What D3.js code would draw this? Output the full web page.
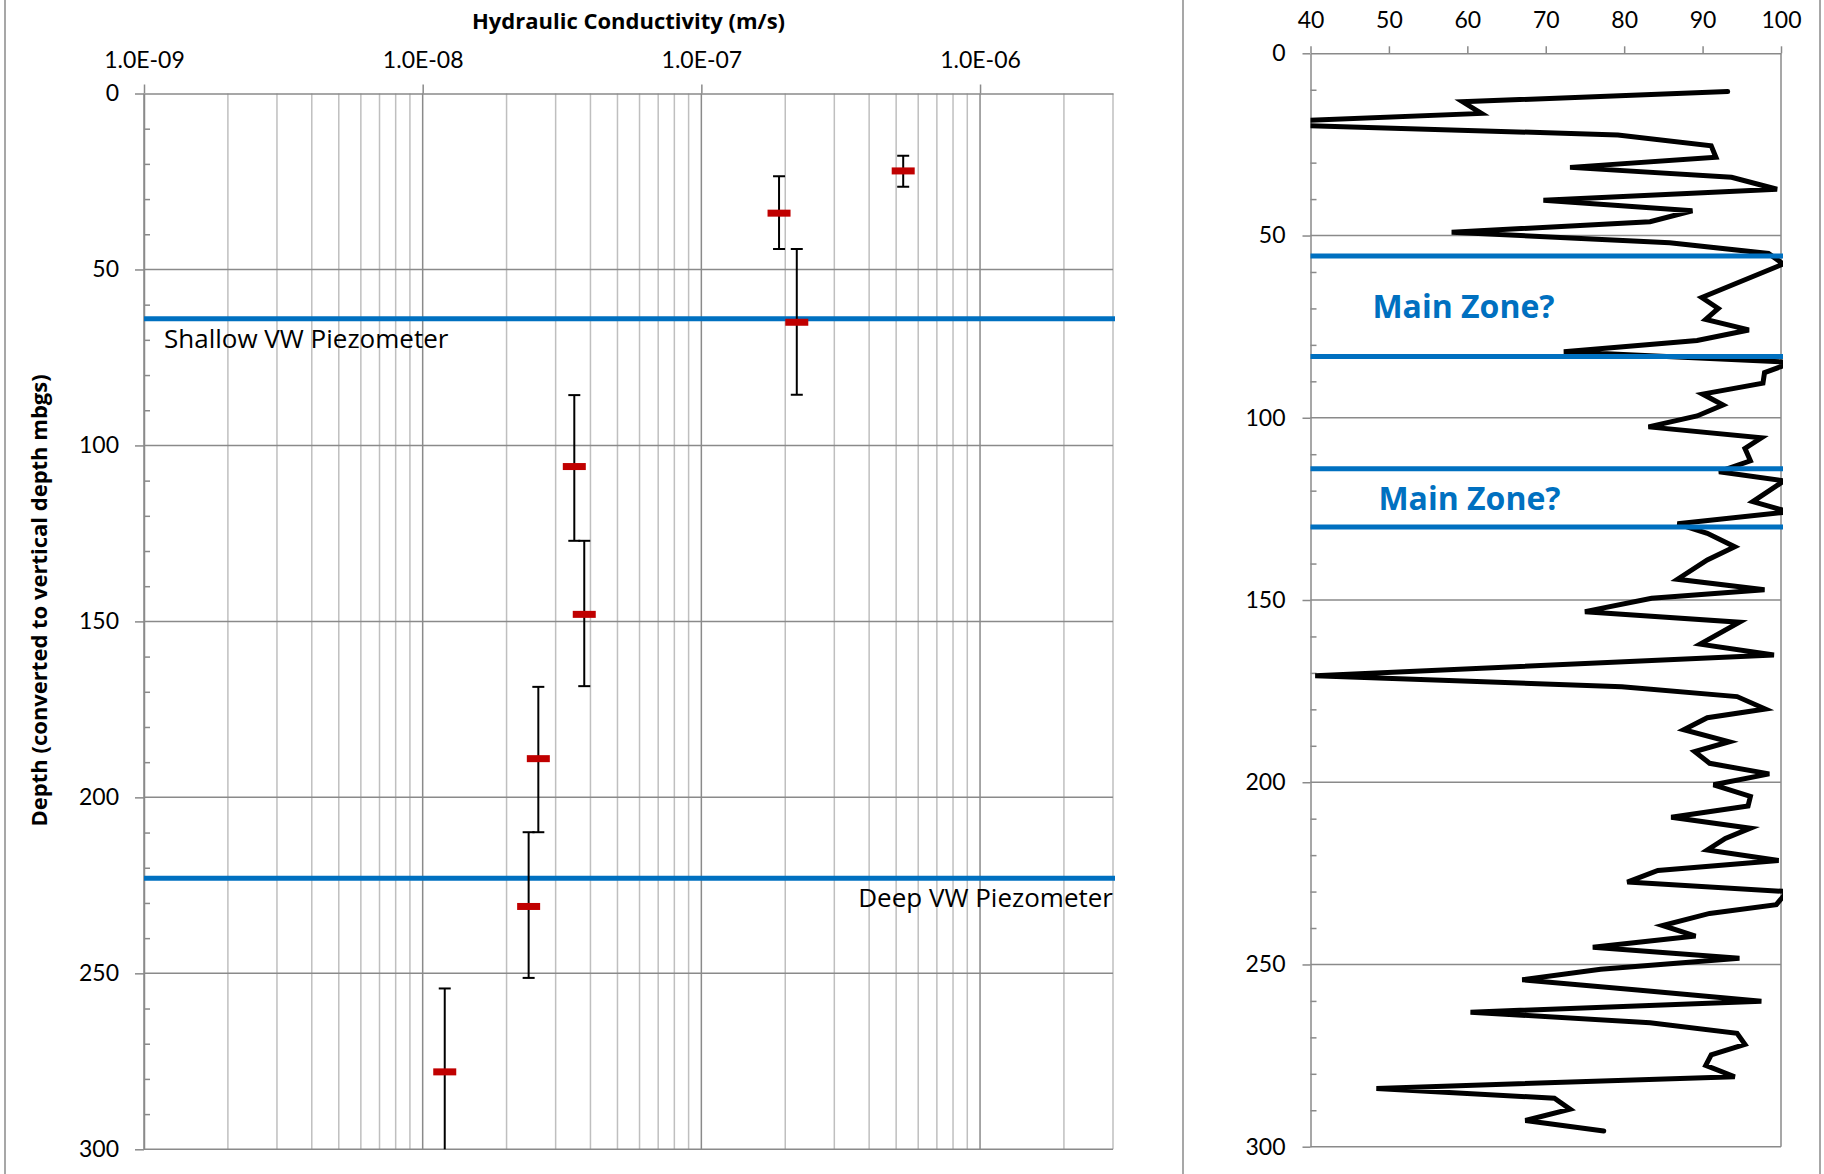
<!DOCTYPE html>
<html>
<head>
<meta charset="utf-8">
<script src="https://cdn.jsdelivr.net/npm/d3@7"></script>
<style>
    body { margin: 0; background: #fff; }
    svg { display: block; font-family: Lato, "Open Sans", sans-serif; }
</style>
</head>
<body>
<div class="chart-container"></div>
<script>
// Left panel: slug test results (K vs depth, with test interval as error bar)
const kValues = [5.3e-7, 1.9e-7, 2.2e-7, 3.5e-8, 3.8e-8, 2.6e-8, 2.4e-8, 1.2e-8];
const kDepths = [22, 34, 65, 106, 148, 189, 231, 278];
const kDepthTop = [17.7, 23.5, 44.2, 85.7, 127.1, 168.6, 209.9, 254.3];
const kDepthBottom = [26.5, 44.2, 85.6, 127.1, 168.4, 209.9, 251.3, 301.5];

const piezoDepths = [64, 223];
const piezoLabels = ['Shallow VW Piezometer', 'Deep VW Piezometer'];

// Right panel: log trace vs depth
const logDepths = [10.5, 13.3, 16.5, 19.2, 22.4, 25.4, 28.5, 31.3, 34.0, 37.3, 40.3, 43.2, 46.2, 49.1, 52.0, 54.9, 57.8,
    67.0, 70.0, 73.0, 75.9, 78.8, 81.9, 84.8, 87.6, 90.5, 93.5, 96.5, 99.5, 102.5, 105.5, 108.4, 111.8, 114.8, 117.3,
    123.0, 125.8, 129.1, 131.7, 135.4, 139.0, 144.3, 147.2, 149.5, 153.2, 156.1, 162.1, 165.1, 170.8, 173.8, 176.5,
    179.9, 182.3, 185.6, 188.9, 191.6, 194.8, 197.7, 200.7, 203.9, 206.5, 209.6, 212.6, 215.4, 218.6, 221.5, 224.2,
    227.4, 230.0, 233.6, 236.0, 239.3, 242.2, 245.3, 248.3, 251.3, 254.2, 257.0, 260.1, 263.1, 266.0, 268.9, 271.9,
    274.8, 277.7, 280.8, 284.0, 286.7, 289.7, 292.8, 295.7];
const logValues = [93.2, 59.4, 61.8, 30, 79.2, 91.1, 91.7, 73.1, 93.7, 99.5, 69.7, 88.7, 83.3, 58.0, 85.8, 98.4, 100.3,
    89.9, 92.0, 90.4, 95.9, 89.3, 72.3, 101.5, 97.9, 97.7, 90.0, 92.6, 89.3, 83.1, 97.5, 95.4, 96.1, 92.1, 100.4,
    96.4, 101.0, 86.8, 90.6, 94.1, 90.6, 86.8, 97.9, 83.5, 75.0, 94.7, 89.7, 99.1, 40.6, 79.7, 94.4,
    98.0, 90.6, 87.6, 93.4, 89.0, 90.9, 98.5, 91.4, 96.1, 95.8, 86.0, 96.1, 92.9, 90.6, 99.7, 84.3,
    80.4, 100.8, 99.4, 90.9, 84.9, 89.1, 76.0, 94.7, 77.0, 67.0, 81.7, 97.5, 60.4, 83.3, 94.4, 95.4,
    91.1, 90.4, 94.1, 48.4, 71.1, 73.1, 67.4, 77.4];

const zoneDepths = [55.6, 83.2, 114, 130];
const zoneLabels = ['Main Zone?', 'Main Zone?'];

const depthTicks = [0, 50, 100, 150, 200, 250, 300];
const logTicks = [40, 50, 60, 70, 80, 90, 100];

const GRID = "#8a8a8a";
const GRID_MINOR = "#bfbfbf";
const BLUE = "#0070c0";
const RED = "#c00000";
const TEXT_FONT = "'Open Sans', Lato, sans-serif";

// 1.0E-09 style labels
const sciFormat = d => {
    const e = Math.round(Math.log10(d));
    const m = d / Math.pow(10, e);
    return m.toFixed(1) + "E" + (e < 0 ? "-" : "+") + String(Math.abs(e)).padStart(2, "0");
};

const svg = d3.select(".chart-container").append("svg")
    .attr("width", 1824)
    .attr("height", 1174);

// outer frame lines
[5, 1183, 1820].forEach(x => {
    svg.append("line").attr("x1", x).attr("x2", x).attr("y1", 0).attr("y2", 1174)
        .attr("stroke", GRID).attr("stroke-width", 1.5);
});

const minorDepths = d3.range(10, 300, 10).filter(d => d % 50 !== 0);

// ---------------- left panel ----------------
const xL = d3.scaleLog().domain([1e-9, 3e-6]).range([144, 1113]);
const yL = d3.scaleLinear().domain([0, 300]).range([93.5, 1149.3]);

const left = svg.append("g");

const kTicks = xL.ticks();
const isMajor = d => Math.abs(Math.log10(d) - Math.round(Math.log10(d))) < 1e-6;

left.selectAll(".vgrid")
    .data(kTicks)
    .enter()
    .append("line")
    .attr("x1", d => xL(d)).attr("x2", d => xL(d))
    .attr("y1", yL(0)).attr("y2", yL(300))
    .attr("stroke", d => isMajor(d) ? GRID : GRID_MINOR)
    .attr("stroke-width", 1.5);

left.selectAll(".hgrid")
    .data(depthTicks.slice(1))
    .enter()
    .append("line")
    .attr("x1", xL.range()[0]).attr("x2", xL.range()[1])
    .attr("y1", d => yL(d)).attr("y2", d => yL(d))
    .attr("stroke", GRID).attr("stroke-width", 1.5);

// top axis
left.append("g")
    .attr("class", "x-axis")
    .attr("transform", `translate(0,${yL(0)})`)
    .call(d3.axisTop(xL).tickValues(kTicks.filter(isMajor)).tickFormat(sciFormat).tickSize(9).tickSizeOuter(0).tickPadding(17));

// left axis + inner minor ticks
left.append("g")
    .attr("class", "y-axis")
    .attr("transform", `translate(${xL.range()[0]},0)`)
    .call(d3.axisLeft(yL).tickValues(depthTicks).tickSize(9).tickSizeOuter(0).tickPadding(16));

left.append("g")
    .attr("class", "y-minor")
    .attr("transform", `translate(${xL.range()[0]},0)`)
    .call(d3.axisRight(yL).tickValues(minorDepths).tickSize(6).tickFormat(""));

// piezometer lines
left.selectAll(".piezo")
    .data(piezoDepths)
    .enter()
    .append("line")
    .attr("x1", xL.range()[0]).attr("x2", xL.range()[1] + 2)
    .attr("y1", d => yL(d)).attr("y2", d => yL(d))
    .attr("stroke", BLUE).attr("stroke-width", 5);

left.append("text")
    .attr("x", xL.range()[0] + 20).attr("y", yL(piezoDepths[0]) + 29)
    .attr("font-size", 26).style("font-family", TEXT_FONT)
    .text(piezoLabels[0]);

left.append("text")
    .attr("x", xL.range()[1]).attr("y", yL(piezoDepths[1]) + 29)
    .attr("text-anchor", "end")
    .attr("font-size", 26).style("font-family", TEXT_FONT)
    .text(piezoLabels[1]);

// error bars + markers
svg.append("clipPath").attr("id", "clipL")
    .append("rect")
    .attr("x", xL.range()[0]).attr("y", yL(0))
    .attr("width", xL.range()[1] - xL.range()[0]).attr("height", yL(300) - yL(0));

const kData = kValues.map((k, i) => ({ k: k, depth: kDepths[i], top: kDepthTop[i], bottom: kDepthBottom[i] }));
const bars = left.append("g").attr("clip-path", "url(#clipL)");

bars.selectAll(".err")
    .data(kData)
    .enter()
    .append("line")
    .attr("x1", d => xL(d.k)).attr("x2", d => xL(d.k))
    .attr("y1", d => yL(d.top)).attr("y2", d => yL(d.bottom))
    .attr("stroke", "#000").attr("stroke-width", 2);

["top", "bottom"].forEach(end => {
    bars.selectAll(".cap-" + end)
        .data(kData)
        .enter()
        .append("line")
        .attr("x1", d => xL(d.k) - 6).attr("x2", d => xL(d.k) + 6)
        .attr("y1", d => yL(d[end])).attr("y2", d => yL(d[end]))
        .attr("stroke", "#000").attr("stroke-width", 2);
});

bars.selectAll(".mark")
    .data(kData)
    .enter()
    .append("rect")
    .attr("x", d => xL(d.k) - 11.5).attr("y", d => yL(d.depth) - 3.5)
    .attr("width", 23).attr("height", 7)
    .attr("fill", RED);

// titles
svg.append("text")
    .attr("x", (xL.range()[0] + xL.range()[1]) / 2).attr("y", 29)
    .attr("text-anchor", "middle")
    .attr("font-size", 22).attr("font-weight", "bold")
    .style("font-family", TEXT_FONT)
    .text("Hydraulic Conductivity (m/s)");

svg.append("text")
    .attr("transform", `translate(47,${(yL(0) + yL(300)) / 2 - 21}) rotate(-90)`)
    .attr("text-anchor", "middle")
    .attr("font-size", 22).attr("font-weight", "bold")
    .style("font-family", TEXT_FONT)
    .text("Depth (converted to vertical depth mbgs)");

// ---------------- right panel ----------------
const xR = d3.scaleLinear().domain([40, 100]).range([1310.5, 1781]);
const yR = d3.scaleLinear().domain([0, 300]).range([53.3, 1146.7]);

const right = svg.append("g");

right.selectAll(".hgrid")
    .data(depthTicks.slice(1))
    .enter()
    .append("line")
    .attr("x1", xR.range()[0]).attr("x2", xR.range()[1])
    .attr("y1", d => yR(d)).attr("y2", d => yR(d))
    .attr("stroke", GRID).attr("stroke-width", 1.5);

right.append("line")
    .attr("x1", xR(100)).attr("x2", xR(100))
    .attr("y1", yR(0)).attr("y2", yR(300))
    .attr("stroke", GRID).attr("stroke-width", 1.5);

right.append("g")
    .attr("class", "x-axis")
    .attr("transform", `translate(0,${yR(0)})`)
    .call(d3.axisTop(xR).tickValues(logTicks).tickSize(7).tickSizeOuter(0).tickPadding(18));

right.append("g")
    .attr("class", "y-axis")
    .attr("transform", `translate(${xR.range()[0]},0)`)
    .call(d3.axisLeft(yR).tickValues(depthTicks).tickSize(8).tickSizeOuter(0).tickPadding(17));

right.append("g")
    .attr("class", "y-minor")
    .attr("transform", `translate(${xR.range()[0]},0)`)
    .call(d3.axisRight(yR).tickValues(minorDepths).tickSize(6).tickFormat(""));

svg.append("clipPath").attr("id", "clipR")
    .append("rect")
    .attr("x", xR.range()[0]).attr("y", yR(0))
    .attr("width", xR.range()[1] - xR.range()[0] + 2).attr("height", yR(300) - yR(0));

const logData = logDepths.map((d, i) => ({ depth: d, value: logValues[i] }));

right.append("path")
    .datum(logData)
    .attr("clip-path", "url(#clipR)")
    .attr("fill", "none")
    .attr("stroke", "#000")
    .attr("stroke-width", 5)
    .attr("stroke-linecap", "round")
    .attr("d", d3.line().x(d => xR(d.value)).y(d => yR(d.depth)));

right.selectAll(".zone")
    .data(zoneDepths)
    .enter()
    .append("line")
    .attr("x1", xR.range()[0]).attr("x2", xR.range()[1] + 2)
    .attr("y1", d => yR(d)).attr("y2", d => yR(d))
    .attr("stroke", BLUE).attr("stroke-width", 5);

right.selectAll(".zone-label")
    .data(zoneLabels)
    .enter()
    .append("text")
    .attr("x", (d, i) => xR(47.9) + i * 6)
    .attr("y", (d, i) => (yR(zoneDepths[i * 2]) + yR(zoneDepths[i * 2 + 1])) / 2 + 12)
    .attr("font-size", 32).attr("font-weight", "bold")
    .style("font-family", TEXT_FONT)
    .attr("fill", BLUE)
    .text(d => d);

// axis styling
svg.selectAll(".x-axis, .y-axis, .y-minor").selectAll("path, line")
    .attr("stroke", GRID).attr("stroke-width", 1.5);
svg.selectAll(".y-minor path").remove();
svg.selectAll(".x-axis text, .y-axis text")
    .attr("fill", "#000")
    .style("font-size", "23px")
    .style("font-family", "Lato, 'Open Sans', sans-serif");
</script>
</body>
</html>
